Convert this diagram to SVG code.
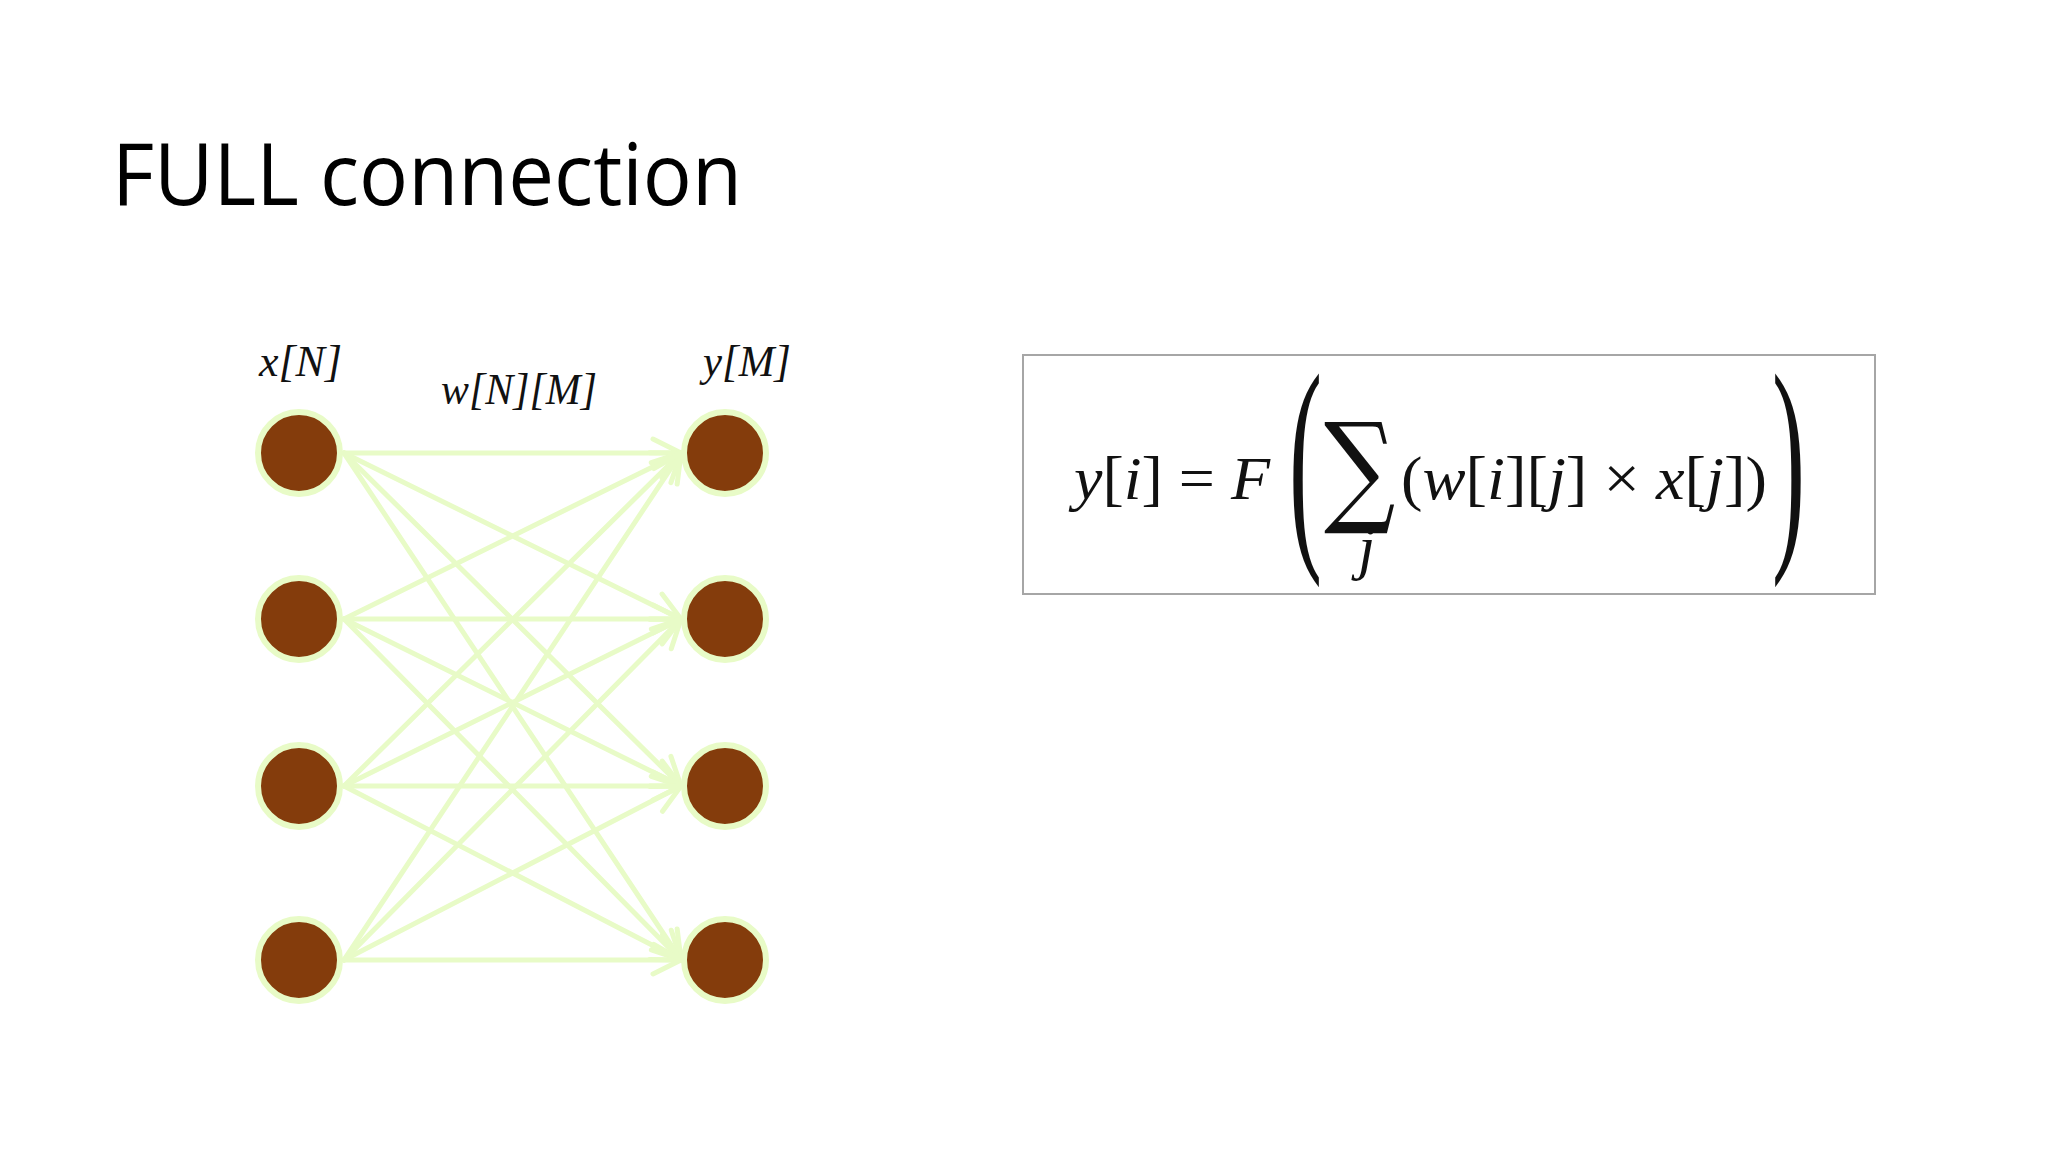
<svg xmlns="http://www.w3.org/2000/svg" width="2048" height="1152" viewBox="0 0 2048 1152">
<style>
.node circle{fill:#843c0c;stroke:#e8fbc7;stroke-width:6}
.conn line{stroke:#e8fbc7;stroke-width:5;stroke-linecap:round}
.lbl{font-family:"Liberation Serif",serif;font-style:italic;font-size:45px;fill:#111}
.m{font-family:"Liberation Serif",serif;font-size:62px;fill:#111}
.it{font-style:italic}
</style>
<defs>
<marker id="ah" markerUnits="userSpaceOnUse" markerWidth="34" markerHeight="34" viewBox="0 0 34 34" refX="31" refY="17" orient="auto">
<path d="M3,3 L31,17 L3,31" fill="none" stroke="#e8fbc7" stroke-width="5" stroke-linecap="round" stroke-linejoin="round"/>
</marker>
</defs>
<rect width="2048" height="1152" fill="#ffffff"/>
<text x="112" y="205" font-family="'Open Sans','Noto Sans',sans-serif" font-size="86" fill="#000" textLength="630" lengthAdjust="spacingAndGlyphs">FULL connection</text>

<g id="connectors" class="conn">
<line x1="344" y1="453" x2="681" y2="453" marker-end="url(#ah)"/>
<line x1="344" y1="453" x2="681" y2="619" marker-end="url(#ah)"/>
<line x1="344" y1="453" x2="681" y2="786" marker-end="url(#ah)"/>
<line x1="344" y1="453" x2="681" y2="960" marker-end="url(#ah)"/>
<line x1="344" y1="619" x2="681" y2="453" marker-end="url(#ah)"/>
<line x1="344" y1="619" x2="681" y2="619" marker-end="url(#ah)"/>
<line x1="344" y1="619" x2="681" y2="786" marker-end="url(#ah)"/>
<line x1="344" y1="619" x2="681" y2="960" marker-end="url(#ah)"/>
<line x1="344" y1="786" x2="681" y2="453" marker-end="url(#ah)"/>
<line x1="344" y1="786" x2="681" y2="619" marker-end="url(#ah)"/>
<line x1="344" y1="786" x2="681" y2="786" marker-end="url(#ah)"/>
<line x1="344" y1="786" x2="681" y2="960" marker-end="url(#ah)"/>
<line x1="344" y1="960" x2="681" y2="453" marker-end="url(#ah)"/>
<line x1="344" y1="960" x2="681" y2="619" marker-end="url(#ah)"/>
<line x1="344" y1="960" x2="681" y2="786" marker-end="url(#ah)"/>
<line x1="344" y1="960" x2="681" y2="960" marker-end="url(#ah)"/>
</g>

<g id="x1" class="node"><circle cx="299" cy="453" r="41"/></g>
<g id="x2" class="node"><circle cx="299" cy="619" r="41"/></g>
<g id="x3" class="node"><circle cx="299" cy="786" r="41"/></g>
<g id="x4" class="node"><circle cx="299" cy="960" r="41"/></g>
<g id="y1" class="node"><circle cx="725" cy="453" r="41"/></g>
<g id="y2" class="node"><circle cx="725" cy="619" r="41"/></g>
<g id="y3" class="node"><circle cx="725" cy="786" r="41"/></g>
<g id="y4" class="node"><circle cx="725" cy="960" r="41"/></g>

<g id="labels">
<text class="lbl" x="259" y="376" textLength="83" lengthAdjust="spacingAndGlyphs">x[N]</text>
<text class="lbl" x="441" y="404" textLength="156" lengthAdjust="spacingAndGlyphs">w[N][M]</text>
<text class="lbl" x="703" y="376" textLength="88" lengthAdjust="spacingAndGlyphs">y[M]</text>
</g>

<g id="formula">
<rect x="1023" y="355" width="852" height="239" fill="#ffffff" stroke="#a6a6a6" stroke-width="2"/>
<text class="m" x="1074" y="499" textLength="196" lengthAdjust="spacingAndGlyphs"><tspan class="it">y</tspan>[<tspan class="it">i</tspan>] = <tspan class="it">F</tspan></text>
<text class="m" font-size="56" transform="translate(1289,537) scale(1.6,3.81)" x="0" y="0">(</text>
<text transform="translate(1324,510) scale(0.82,1)" x="0" y="0" font-family="'DejaVu Serif',serif" font-size="122" fill="#111">∑</text>
<text class="m it" x="1358" y="568" font-size="44">j</text>
<text class="m" x="1401" y="499" textLength="366" lengthAdjust="spacingAndGlyphs">(<tspan class="it">w</tspan>[<tspan class="it">i</tspan>][<tspan class="it">j</tspan>] × <tspan class="it">x</tspan>[<tspan class="it">j</tspan>])</text>
<text class="m" font-size="56" transform="translate(1772,537) scale(1.6,3.81)" x="0" y="0">)</text>
</g>
</svg>
